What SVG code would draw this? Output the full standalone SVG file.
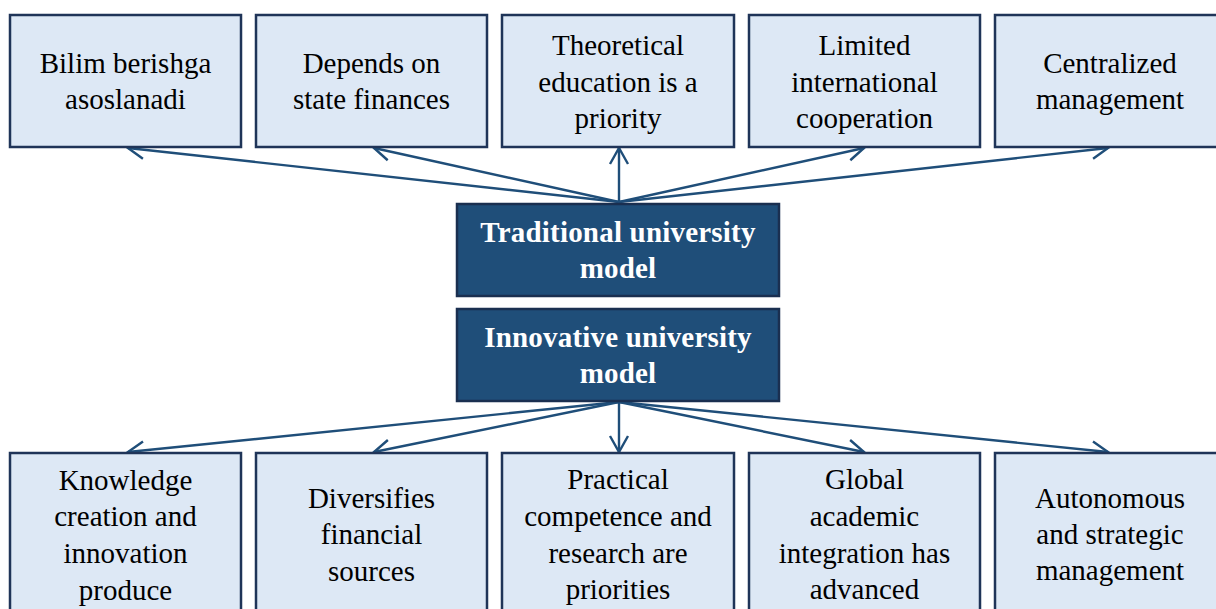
<svg xmlns="http://www.w3.org/2000/svg" width="1216" height="609" viewBox="0 0 1216 609">
<style>
.lb{fill:#dde8f5;stroke:#1f3458;stroke-width:2.5}
.db{fill:#1f4e79;stroke:#1a2f50;stroke-width:2.5}
.t{font-family:"Liberation Serif","Times New Roman",serif;font-size:29px;fill:#000;text-anchor:middle}
.tb{font-family:"Liberation Serif","Times New Roman",serif;font-size:29px;font-weight:bold;fill:#fff;text-anchor:middle;letter-spacing:0.2px}
.c{stroke:#1f4e79;stroke-width:2.4;fill:none;marker-end:url(#ah)}
</style>
<defs>
<marker id="ah" markerUnits="userSpaceOnUse" markerWidth="22" markerHeight="22" viewBox="0 0 22 22" refX="19" refY="11" orient="auto">
<path d="M3,2 L19,11 L3,20" fill="none" stroke="#1f4e79" stroke-width="2.4"/>
</marker>
</defs>
<rect width="1216" height="609" fill="#fff"/>
<g id="connectors">
<line class="c" x1="619" y1="202" x2="128" y2="148"/>
<line class="c" x1="619" y1="202" x2="374" y2="148"/>
<line class="c" x1="619" y1="202" x2="619" y2="148"/>
<line class="c" x1="619" y1="202" x2="864" y2="148"/>
<line class="c" x1="619" y1="202" x2="1108" y2="148"/>
<line class="c" x1="619" y1="402" x2="128" y2="452"/>
<line class="c" x1="619" y1="402" x2="374" y2="452"/>
<line class="c" x1="619" y1="402" x2="619" y2="452"/>
<line class="c" x1="619" y1="402" x2="864" y2="452"/>
<line class="c" x1="619" y1="402" x2="1108" y2="452"/>
</g>
<g id="n_trad">
<rect class="db" x="457" y="204" width="322" height="92"/>
<text class="tb" x="618" y="242">Traditional university</text>
<text class="tb" x="618" y="278">model</text>
</g>
<g id="n_innov">
<rect class="db" x="457" y="309" width="322" height="92"/>
<text class="tb" x="618" y="347">Innovative university</text>
<text class="tb" x="618" y="383">model</text>
</g>
<g id="t1">
<rect class="lb" x="10" y="15" width="231" height="132"/>
<text class="t" x="125.5" y="73">Bilim berishga</text>
<text class="t" x="125.5" y="109">asoslanadi</text>
</g>
<g id="t2">
<rect class="lb" x="256" y="15" width="231" height="132"/>
<text class="t" x="371.5" y="73">Depends on</text>
<text class="t" x="371.5" y="109">state finances</text>
</g>
<g id="t3">
<rect class="lb" x="502" y="15" width="232" height="132"/>
<text class="t" x="618" y="55">Theoretical</text>
<text class="t" x="618" y="92">education is a</text>
<text class="t" x="618" y="128">priority</text>
</g>
<g id="t4">
<rect class="lb" x="749" y="15" width="231" height="132"/>
<text class="t" x="864.5" y="55">Limited</text>
<text class="t" x="864.5" y="92">international</text>
<text class="t" x="864.5" y="128">cooperation</text>
</g>
<g id="t5">
<rect class="lb" x="995" y="15" width="232" height="132"/>
<text class="t" x="1110" y="73">Centralized</text>
<text class="t" x="1110" y="109">management</text>
</g>
<g id="b1">
<rect class="lb" x="10" y="453" width="231" height="170"/>
<text class="t" x="125.5" y="490">Knowledge</text>
<text class="t" x="125.5" y="526">creation and</text>
<text class="t" x="125.5" y="563">innovation</text>
<text class="t" x="125.5" y="600">produce</text>
</g>
<g id="b2">
<rect class="lb" x="256" y="453" width="231" height="170"/>
<text class="t" x="371.5" y="508">Diversifies</text>
<text class="t" x="371.5" y="544">financial</text>
<text class="t" x="371.5" y="581">sources</text>
</g>
<g id="b3">
<rect class="lb" x="502" y="453" width="232" height="170"/>
<text class="t" x="618" y="489">Practical</text>
<text class="t" x="618" y="526">competence and</text>
<text class="t" x="618" y="563">research are</text>
<text class="t" x="618" y="599">priorities</text>
</g>
<g id="b4">
<rect class="lb" x="749" y="453" width="231" height="170"/>
<text class="t" x="864.5" y="489">Global</text>
<text class="t" x="864.5" y="526">academic</text>
<text class="t" x="864.5" y="563">integration has</text>
<text class="t" x="864.5" y="599">advanced</text>
</g>
<g id="b5">
<rect class="lb" x="995" y="453" width="232" height="170"/>
<text class="t" x="1110" y="508">Autonomous</text>
<text class="t" x="1110" y="544">and strategic</text>
<text class="t" x="1110" y="580">management</text>
</g>
</svg>
